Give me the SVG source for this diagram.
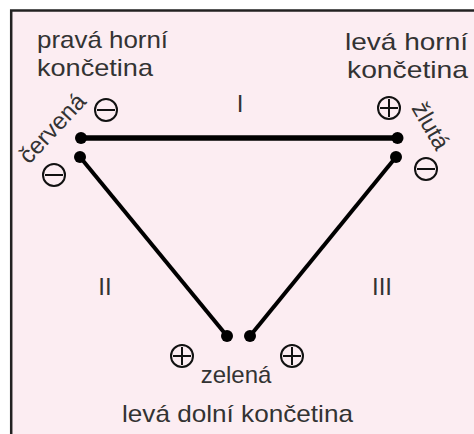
<svg xmlns="http://www.w3.org/2000/svg" width="474" height="434" viewBox="0 0 474 434">
<style>
.t{font-family:"Liberation Sans",Arial,sans-serif;fill:#333;font-size:24px}
.s{fill:none;stroke:#111;stroke-width:2}
.d{fill:#000}
.w{stroke:#000;fill:none;stroke-linecap:butt}
</style>
<defs>
<g id="minus"><circle class="s" r="11"/><line class="s" x1="-9" y1="0" x2="9" y2="0"/></g>
<g id="plus"><circle class="s" r="11"/><line class="s" x1="-9" y1="0" x2="9" y2="0"/><line class="s" x1="0" y1="-9" x2="0" y2="9"/></g>
</defs>
<rect width="474" height="434" fill="#fff"/>
<rect x="11" y="10" width="463" height="424" fill="#fcedf2"/>
<path d="M11.2 434V10.5H474" fill="none" stroke="#222" stroke-width="2.5"/>
<g id="connectors">
<line class="w" x1="81" y1="138" x2="397" y2="138" stroke-width="5.5"/>
<line class="w" x1="80" y1="157" x2="227" y2="336" stroke-width="4"/>
<line class="w" x1="396" y1="157" x2="250" y2="336" stroke-width="4"/>
<text class="t" x="240" y="112" text-anchor="middle" font-size="25">I</text>
<text class="t" x="105" y="295" text-anchor="middle" font-size="25">II</text>
<text class="t" x="382" y="295" text-anchor="middle" font-size="25">III</text>
</g>
<g id="right-arm">
<text class="t" x="37" y="48" textLength="131" lengthAdjust="spacingAndGlyphs">pravá horní</text>
<text class="t" x="37" y="76" textLength="116" lengthAdjust="spacingAndGlyphs">končetina</text>
<text class="t" font-size="23" transform="translate(29 165) rotate(-47)">červená</text>
<use href="#minus" x="106" y="110"/>
<use href="#minus" x="54" y="175"/>
<circle class="d" cx="81" cy="138" r="6"/>
<circle class="d" cx="80" cy="157" r="6"/>
</g>
<g id="left-arm">
<text class="t" x="468" y="50" text-anchor="end" textLength="123" lengthAdjust="spacingAndGlyphs">levá horní</text>
<text class="t" x="468" y="78" text-anchor="end" textLength="121" lengthAdjust="spacingAndGlyphs">končetina</text>
<text class="t" font-size="23" transform="translate(411 108) rotate(60)">žlutá</text>
<use href="#plus" x="389" y="108"/>
<use href="#minus" x="426" y="169"/>
<circle class="d" cx="397.5" cy="138" r="6"/>
<circle class="d" cx="396" cy="157" r="6"/>
</g>
<g id="left-leg">
<text class="t" x="236" y="383" text-anchor="middle" font-size="24">zelená</text>
<text class="t" x="237.5" y="422" text-anchor="middle" font-size="26" textLength="231" lengthAdjust="spacingAndGlyphs">levá dolní končetina</text>
<use href="#plus" x="182" y="356"/>
<use href="#plus" x="292" y="356"/>
<circle class="d" cx="227" cy="336" r="6"/>
<circle class="d" cx="250" cy="336" r="6"/>
</g>
</svg>
